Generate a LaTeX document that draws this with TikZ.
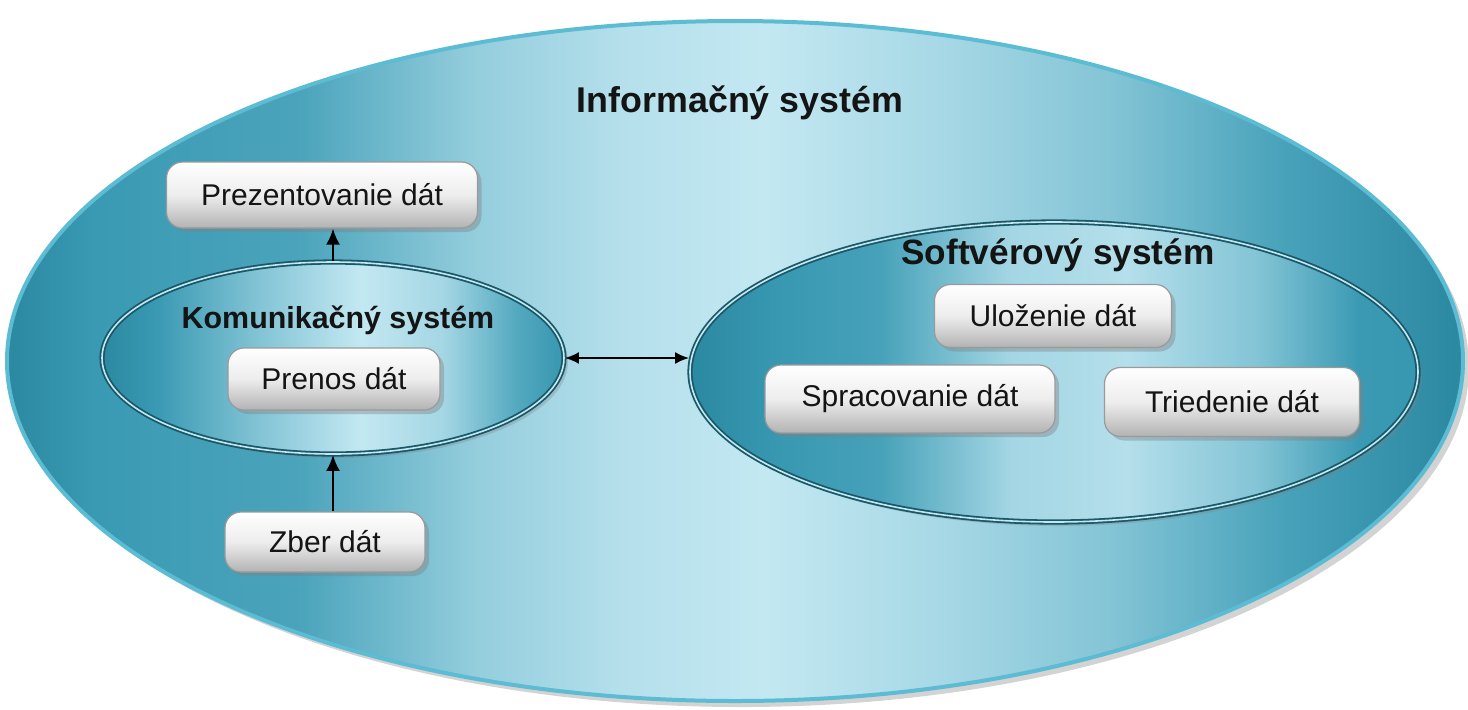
\documentclass[tikz,border=0pt]{standalone}
\usepackage{fontspec}
\setmainfont{Liberation Sans}
\usetikzlibrary{shapes.geometric,shadows,arrows.meta}

\definecolor{tealdeep}{HTML}{2B88A1}
\definecolor{tealmid}{HTML}{3A9AB3}
\definecolor{tealsoft}{HTML}{62B2C7}
\definecolor{tealpale}{HTML}{B4DFEB}
\definecolor{tealice}{HTML}{C3E8F2}
\definecolor{rimlight}{HTML}{5BBCD3}
\definecolor{rimdark}{HTML}{1A5868}
\definecolor{boxline}{HTML}{9A9A9A}
\definecolor{txt}{HTML}{141414}

% horizontal colour ramps for the three system ellipses
% (a shaded path covers the 25bp--75bp band of the ramp)
\pgfdeclarehorizontalshading{outerfill}{100bp}{%
  color(0bp)=(tealdeep);%
  color(25bp)=(tealdeep);%
  color(28bp)=(tealmid);%
  color(35bp)=(tealmid!60!tealsoft);%
  color(41bp)=(tealsoft!40!tealpale);%
  color(46bp)=(tealpale);%
  color(51bp)=(tealice);%
  color(57bp)=(tealpale!85!tealsoft);%
  color(63bp)=(tealsoft!60!tealpale);%
  color(69bp)=(tealmid!70!tealsoft);%
  color(75bp)=(tealdeep);%
  color(100bp)=(tealdeep)}
\pgfdeclarehorizontalshading{komfill}{100bp}{%
  color(0bp)=(tealdeep);%
  color(25bp)=(tealdeep);%
  color(31bp)=(tealmid);%
  color(42bp)=(tealsoft!60!tealpale);%
  color(53bp)=(tealice);%
  color(62bp)=(tealpale!80!tealsoft);%
  color(70bp)=(tealsoft!60!tealmid);%
  color(75bp)=(tealmid!80!tealdeep);%
  color(100bp)=(tealmid!80!tealdeep)}
\pgfdeclarehorizontalshading{softfill}{100bp}{%
  color(0bp)=(tealdeep);%
  color(25bp)=(tealdeep);%
  color(31bp)=(tealmid!90!tealdeep);%
  color(38bp)=(tealmid!70!tealsoft);%
  color(47bp)=(tealpale!80!tealsoft);%
  color(55bp)=(tealpale);%
  color(64bp)=(tealsoft!60!tealpale);%
  color(71bp)=(tealmid);%
  color(75bp)=(tealmid!85!tealdeep);%
  color(100bp)=(tealmid!85!tealdeep)}

\tikzset{
  sysouter/.style={ellipse, inner sep=0pt, shading=outerfill,
    draw=rimlight, line width=2pt,
    drop shadow={shadow xshift=3pt, shadow yshift=-3pt, opacity=.35}},
  sysinner/.style={ellipse, inner sep=0pt, draw=rimdark, line width=.9pt,
    double=tealice, double distance=.8pt,
    drop shadow={shadow xshift=2pt, shadow yshift=-2pt, opacity=.3}},
  databox/.style={rectangle, rounded corners=8pt, inner sep=0pt,
    top color=white, bottom color=gray!60, middle color=gray!14,
    draw=boxline, line width=.6pt, text=txt,
    font=\fontsize{15}{18}\selectfont,
    drop shadow={shadow xshift=2pt, shadow yshift=-2pt, opacity=.4}},
  systitle/.style={font=\bfseries\fontsize{#1}{20}\selectfont, text=txt, inner sep=0pt},
  arr/.style={-{Latex[length=8pt,width=7pt]}, line width=1.1pt, black},
  darr/.style={{Latex[length=7pt,width=6pt]}-{Latex[length=7pt,width=6pt]}, line width=1.1pt, black}
}

\begin{document}
\begin{tikzpicture}[x=0.5pt, y=-0.5pt]
\useasboundingbox (0,0) rectangle (1468,709);

% outer system
\node[sysouter, minimum width=728pt, minimum height=340pt] (info) at (735,361) {};
\node[systitle=17.9] (infot) at (740,103) {Informačný systém};

% communication system
\node[sysinner, shading=komfill, minimum width=231pt, minimum height=96pt] (kom) at (333,358) {};
\node[systitle=15.2] (komt) at (338,320) {Komunikačný systém};

% software system
\node[sysinner, shading=softfill, minimum width=364pt, minimum height=150pt] (soft) at (1054,372) {};
\node[systitle=17.6] (softt) at (1058,255) {Softvérový systém};

% data boxes
\node[databox, minimum width=155.5pt, minimum height=33pt] (prez) at (322,195) {Prezentovanie dát};
\node[databox, minimum width=106pt, minimum height=31pt] (prenos) at (334,379) {Prenos dát};
\node[databox, minimum width=100pt, minimum height=30pt] (zber) at (325,542) {Zber dát};
\node[databox, minimum width=118.5pt, minimum height=31.5pt] (uloz) at (1053,316) {Uloženie dát};
\node[databox, minimum width=145pt, minimum height=34pt] (sprac) at (910,399) {Spracovanie dát};
\node[databox, minimum width=127.5pt, minimum height=34.5pt] (tried) at (1232,402) {Triedenie dát};

% data flow
\draw[arr] (kom.north) -- (kom.north |- prez.south);
\draw[arr] (zber.north -| kom.south) -- (kom.south);
\draw[darr] (kom.east) -- (kom.east -| soft.west);
\end{tikzpicture}
\end{document}
